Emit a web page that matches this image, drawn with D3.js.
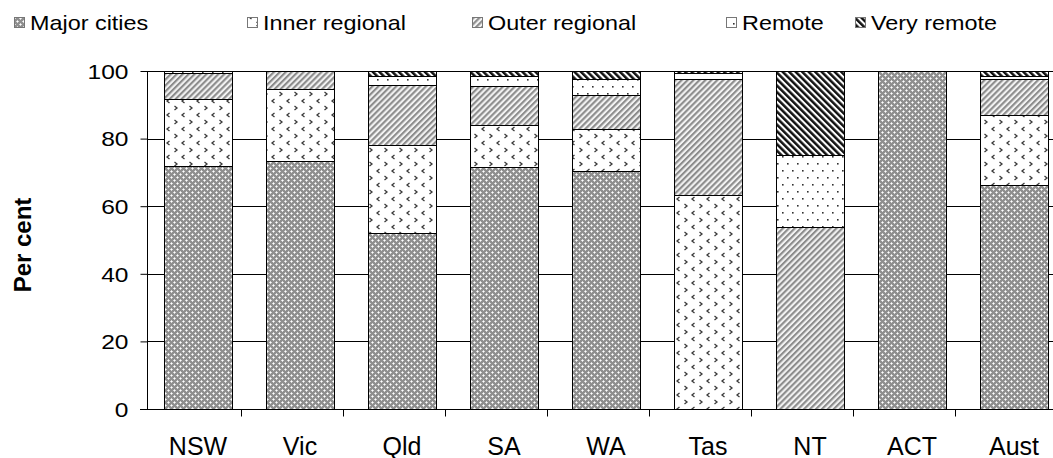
<!DOCTYPE html>
<html>
<head>
<meta charset="utf-8">
<script src="https://cdn.jsdelivr.net/npm/d3@7"></script>
<style>
  html, body { margin: 0; padding: 0; background: #fff; }
  svg { display: block; font-family: "Liberation Sans", Arial, sans-serif; }
</style>
</head>
<body>
<svg id="chart" width="1053" height="458"></svg>
<script>
// Remoteness-area share of each jurisdiction (per cent)
const categories    = ["NSW", "Vic", "Qld", "SA", "WA", "Tas", "NT", "ACT", "Aust"];
const majorCities   = [71.8, 73.4, 52.0, 71.5, 70.5, 0,    0,    100, 66.3];
const innerRegional = [19.8, 21.2, 26.1, 12.4, 12.2, 63.3, 0,    0,   20.7];
const outerRegional = [7.7,  5.3,  17.8, 11.8, 10.1, 34.2, 53.8, 0,   10.5];
const remote        = [0.6,  0.1,  2.7,  2.9,  4.8,  1.8,  21.3, 0,   1.1];
const veryRemote    = [0.1,  0,    1.4,  1.4,  2.4,  0.7,  24.9, 0,   1.4];
const seriesNames   = ["Major cities", "Inner regional", "Outer regional", "Remote", "Very remote"];
const yTicks        = [0, 20, 40, 60, 80, 100];

const seriesValues = [majorCities, innerRegional, outerRegional, remote, veryRemote];
const table = categories.map((c, i) => {
  const row = { category: c };
  seriesNames.forEach((s, k) => { row[s] = seriesValues[k][i]; });
  return row;
});

const svg = d3.select("#chart");
const defs = svg.append("defs");
const X_STRETCH = 1.17;

// ---- fill patterns ----
// Major cities: grey lattice with white crosses
(function () {
  const p = defs.append("pattern").attr("id", "pat0").attr("patternUnits", "userSpaceOnUse")
    .attr("width", 6).attr("height", 6);
  p.append("rect").attr("width", 6).attr("height", 6).attr("fill", "#8f8f8f");
  const px = (x, y, c) => p.append("rect").attr("x", x).attr("y", y).attr("width", 1).attr("height", 1).attr("fill", c);
  [[0, 0], [3, 3]].forEach(([cx, cy]) => {
    px(cx, cy, "#ffffff");
    px((cx + 1) % 6, cy, "#d8d8d8");
    px((cx + 5) % 6, cy, "#d8d8d8");
    px(cx, (cy + 1) % 6, "#d8d8d8");
    px(cx, (cy + 5) % 6, "#d8d8d8");
  });
})();
// Inner regional: chevrons on white
(function () {
  const p = defs.append("pattern").attr("id", "pat1").attr("patternUnits", "userSpaceOnUse")
    .attr("width", 15).attr("height", 14);
  p.append("rect").attr("width", 15).attr("height", 14).attr("fill", "#fff");
  const lt = (x, y) => p.append("path").attr("d", `M${x + 2.5},${y} L${x},${y + 2} L${x + 2.5},${y + 4}`)
    .attr("fill", "none").attr("stroke", "#3a3a3a").attr("stroke-width", 1.3);
  const gt = (x, y) => p.append("path").attr("d", `M${x},${y} L${x + 2.5},${y + 2} L${x},${y + 4}`)
    .attr("fill", "none").attr("stroke", "#3a3a3a").attr("stroke-width", 1.3);
  lt(2, 1);
  gt(9.5, 8);
})();
// Outer regional: grey forward diagonal
(function () {
  const p = defs.append("pattern").attr("id", "pat2").attr("patternUnits", "userSpaceOnUse")
    .attr("width", 4.2).attr("height", 4.2).attr("patternTransform", "rotate(45)");
  p.append("rect").attr("width", 4.2).attr("height", 4.2).attr("fill", "#f2f2f2");
  p.append("rect").attr("width", 2.1).attr("height", 4.2).attr("fill", "#8c8c8c");
})();
// Remote: sparse dots
(function () {
  const p = defs.append("pattern").attr("id", "pat3").attr("patternUnits", "userSpaceOnUse")
    .attr("width", 10).attr("height", 14);
  p.append("rect").attr("width", 10).attr("height", 14).attr("fill", "#fff");
  [[2, 2], [7, 9]].forEach(([x, y]) => {
    p.append("rect").attr("x", x).attr("y", y).attr("width", 1.6).attr("height", 1.6).attr("fill", "#333");
  });
})();
// Very remote: dark back diagonal
(function () {
  const p = defs.append("pattern").attr("id", "pat4").attr("patternUnits", "userSpaceOnUse")
    .attr("width", 4.6).attr("height", 4.6).attr("patternTransform", "rotate(-45)");
  p.append("rect").attr("width", 4.6).attr("height", 4.6).attr("fill", "#fff");
  p.append("rect").attr("width", 2.5).attr("height", 4.6).attr("fill", "#111");
})();

// ---- scales ----
const x = d3.scaleBand().domain(categories).range([147, 1065])
  .paddingInner(1 / 3).paddingOuter(1 / 6);
const y = d3.scaleLinear().domain([0, 100]).range([409, 71]);

const stack = d3.stack().keys(seriesNames);
const layers = stack(table);

// ---- gridlines ----
svg.append("g").selectAll("line").data(yTicks.filter(t => t > 0)).join("line")
  .attr("x1", 147).attr("x2", 1053)
  .attr("y1", d => Math.round(y(d)) + 0.5).attr("y2", d => Math.round(y(d)) + 0.5)
  .attr("stroke", "#000").attr("stroke-width", 1);

// ---- bars ----
svg.append("g").selectAll("g").data(layers).join("g")
  .attr("fill", (d, i) => `url(#pat${i})`)
  .selectAll("rect").data(d => d.filter(v => v[1] - v[0] > 0)).join("rect")
  .attr("x", d => Math.round(x(d.data.category)) + 0.5)
  .attr("width", x.bandwidth())
  .attr("y", d => Math.round(y(d[1])) + 0.5)
  .attr("height", d => Math.round(y(d[0])) - Math.round(y(d[1])))
  .attr("stroke", "#000").attr("stroke-width", 1);

// ---- y axis ----
const yAxis = svg.append("g").attr("transform", "translate(147.5,0)")
  .call(d3.axisLeft(y).tickValues(yTicks).tickSize(7).tickFormat(d3.format("d")));
yAxis.select(".domain").attr("d", `M0,${y(100)}V${y(0) + 0.5}`).attr("stroke", "#000");
yAxis.selectAll(".tick line").attr("stroke", "#000");
yAxis.selectAll(".tick text")
  .attr("x", null).attr("dy", null)
  .attr("font-size", 21).attr("fill", "#000")
  .attr("text-anchor", "end").attr("dominant-baseline", "central")
  .attr("transform", `translate(-19,0) scale(${X_STRETCH},1)`);

// ---- x axis ----
const xAxis = svg.append("g").attr("transform", `translate(0,${Math.round(y(0)) + 0.5})`);
xAxis.append("line").attr("x1", 140).attr("x2", 1053).attr("stroke", "#000");
xAxis.selectAll("line.sep").data(categories.slice(1)).join("line").attr("class", "sep")
  .attr("x1", d => Math.round(x(d) - x.step() * x.paddingInner() / 2 * 1.5) + 0.5)
  .attr("x2", d => Math.round(x(d) - x.step() * x.paddingInner() / 2 * 1.5) + 0.5)
  .attr("y1", 0).attr("y2", 7).attr("stroke", "#000");
xAxis.selectAll("text").data(categories).join("text")
  .attr("transform", d => `translate(${x(d) + x.bandwidth() / 2},45)`)
  .attr("text-anchor", "middle").attr("font-size", 25).attr("fill", "#000")
  .text(d => d);

// ---- y title ----
svg.append("text")
  .attr("transform", "translate(31,245) rotate(-90)")
  .attr("text-anchor", "middle").attr("font-size", 24).attr("font-weight", "bold")
  .text("Per cent");

// ---- legend ----
const legendX = [14, 247, 472, 726, 855];
const legend = svg.append("g").selectAll("g").data(seriesNames).join("g")
  .attr("transform", (d, i) => `translate(${legendX[i]},0)`);
legend.append("rect").attr("x", 0.5).attr("y", 17.5).attr("width", 10).attr("height", 10)
  .attr("fill", (d, i) => `url(#pat${i})`).attr("stroke", "#777");
legend.append("text")
  .attr("transform", `translate(16,30) scale(${X_STRETCH},1)`)
  .attr("font-size", 20).attr("fill", "#000")
  .text(d => d);
</script>
</body>
</html>
